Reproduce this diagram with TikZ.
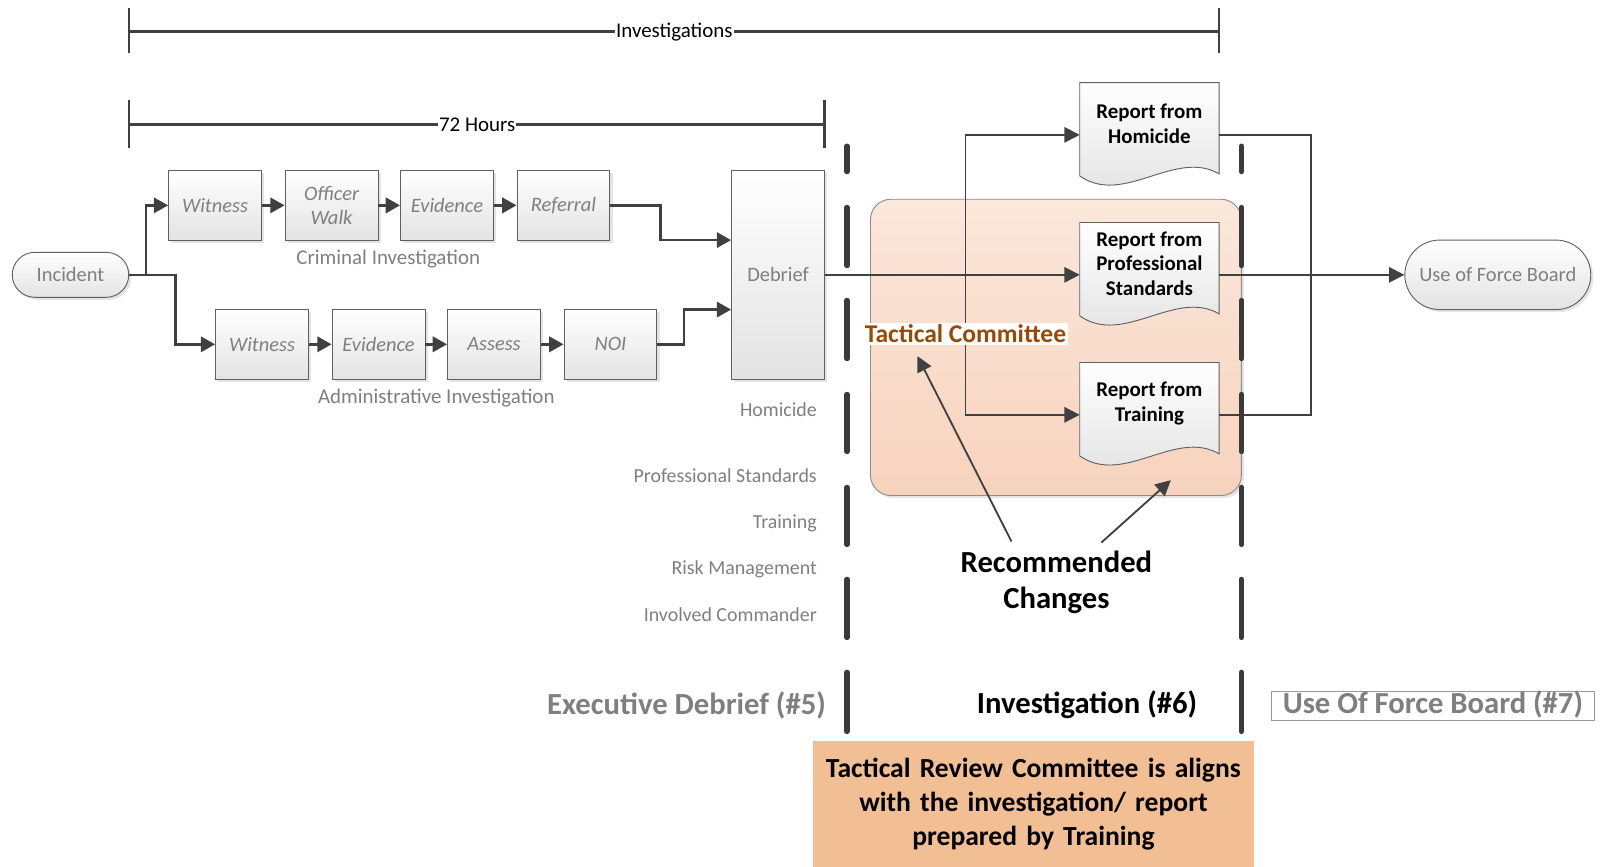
\documentclass[tikz,border=0pt]{standalone}
\usepackage{fontspec}
\setmainfont{Carlito}
\usetikzlibrary{arrows.meta,shapes.misc,shadows,calc}
\definecolor{flowc}{HTML}{404040}
\definecolor{txtgray}{HTML}{7F7F7F}
\definecolor{brd}{HTML}{606060}
\definecolor{tcbrown}{HTML}{984807}
\definecolor{peachtop}{HTML}{FBE7DB}
\definecolor{peachbot}{HTML}{F7D3BD}
\definecolor{orangebox}{HTML}{F2BE93}
\definecolor{dashc}{HTML}{3A3A3A}
\newcommand\fs[2]{\fontsize{#1}{#2}\selectfont}
\newcommand\docshape[1]{\path[docfill] (#1.north west) -- (#1.north east) -- ([yshift=13pt]#1.south east) .. controls ([xshift=-43pt,yshift=38pt]#1.south east) and ([xshift=43pt,yshift=-19pt]#1.south west) .. ([yshift=11pt]#1.south west) -- cycle;}
\tikzset{
  shad/.style={drop shadow={shadow xshift=2.5pt,shadow yshift=-2.5pt,fill=black!35,opacity=0.3}},
  stepbox/.style={rectangle, draw=brd, line width=0.9pt, top color=white, bottom color=black!11,
    minimum width=91pt, minimum height=68pt, inner sep=2pt, align=center, text=txtgray,
    font=\fs{20}{24}\itshape, shad},
  term/.style={rounded rectangle, draw=brd, line width=0.9pt, top color=white, bottom color=black!11,
    text=txtgray, font=\fs{20}{24}, inner sep=0pt, shad},
  docbox/.style={rectangle, minimum width=136pt, minimum height=102pt, inner sep=0pt},
  docfill/.style={draw=brd, line width=0.9pt, top color=white, bottom color=black!12},
  doctext/.style={align=center, font=\fs{20.5}{24}\bfseries, text=black},
  flow/.style={draw=flowc, line width=2.6pt, -{Triangle[length=14pt,width=15pt]}},
  thinflow/.style={draw=flowc, line width=1.8pt, -{Triangle[length=15pt,width=15pt]}},
  thinplain/.style={draw=flowc, line width=1.8pt},
  brk/.style={draw=flowc, line width=2.4pt},
  lane/.style={anchor=east, text=txtgray, font=\fs{19.5}{23}},
  sublbl/.style={text=txtgray, font=\fs{20.5}{24}},
  dashseg/.style={draw=dashc, line width=5pt, line cap=round},
  phase/.style={font=\fs{30}{36}\bfseries},
}
\begin{document}
\begin{tikzpicture}[x=1pt,y=-1pt]
\useasboundingbox (0,0) rectangle (1568,848);

% brackets
\coordinate (iL) at (126,31); \coordinate (iR) at (1193,31);
\draw[brk] (iL) -- (iR);
\draw[brk] ([yshift=23pt]iL) -- ([yshift=-21pt]iL);
\draw[brk] ([yshift=23pt]iR) -- ([yshift=-21pt]iR);
\node[fill=white, inner xsep=1pt, inner ysep=1pt, font=\fs{20.5}{24}] (invlbl) at (660,31) {Investigations};
\coordinate (hL) at (126,122); \coordinate (hR) at (807,122);
\draw[brk] (hL) -- (hR);
\draw[brk] ([yshift=24pt]hL) -- ([yshift=-23pt]hL);
\draw[brk] ([yshift=24pt]hR) -- ([yshift=-23pt]hR);
\node[fill=white, inner xsep=1pt, inner ysep=1pt, font=\fs{20.5}{24}] (hlbl) at (467,122) {72 Hours};

% tactical committee area
\node[rectangle, rounded corners=20pt, draw=black!45, line width=0.9pt, top color=peachtop, bottom color=peachbot,
  minimum width=363pt, minimum height=290pt, shad] (tac) at (1033.5,340) {};

% documents
\node[docbox] (rh) at (1125,132) {};
\node[docbox] (rp) at (1125,269) {};
\node[docbox] (rt) at (1125,406) {};
\docshape{rh}\docshape{rp}\docshape{rt}
\node[doctext] (rht) at ([yshift=11pt]rh.center) {Report from\\Homicide};
\node[doctext] (rpt) at ([yshift=11pt]rp.center) {Report from\\Professional\\Standards};
\node[doctext] (rtt) at ([yshift=11pt]rt.center) {Report from\\Training};

% left process
\node[term, minimum width=114pt, minimum height=44pt] (inc) at (69,269) {Incident};
\node[stepbox] (w1) at (210.5,201) {Witness};
\node[stepbox] (w2) at (324.5,201) {Officer\\Walk};
\node[stepbox] (w3) at (437.5,201) {Evidence};
\node[stepbox] (w4) at (551.5,201) {Referral};
\node[stepbox] (a1) at (256.5,337) {Witness};
\node[stepbox] (a2) at (370.5,337) {Evidence};
\node[stepbox] (a3) at (483.5,337) {Assess};
\node[stepbox] (a4) at (597.5,337) {NOI};
\node[stepbox, minimum height=204pt, font=\fs{20}{24}] (deb) at (761.5,269) {Debrief};
\node[sublbl] (crim) at (380,254) {Criminal Investigation};
\node[sublbl] (adm) at (427,390) {Administrative Investigation};
\node[term, minimum width=182pt, minimum height=68pt] (uof) at (1466,269) {Use of Force Board};

\coordinate (s1) at (143,269);
\coordinate (s2) at (172,269);
\draw[flow] (inc.east) -- (s1) |- (w1.west);
\draw[flow] (inc.east) -- (s2) |- (a1.west);
\draw[flow] (w1) -- (w2);
\draw[flow] (w2) -- (w3);
\draw[flow] (w3) -- (w4);
\draw[flow] (a1) -- (a2);
\draw[flow] (a2) -- (a3);
\draw[flow] (a3) -- (a4);
\draw[flow] (w4.east) -- ++(49,0) |- ([yshift=34pt]deb.west);
\draw[flow] (a4.east) -- ++(26,0) |- ([yshift=-34pt]deb.west);

% right connectors
\coordinate (br) at (945,269);
\coordinate (jn) at (1283,269);
\draw[thinflow] (deb.east) -- (rp.west);
\draw[thinflow] (br) |- (rh.west);
\draw[thinflow] (br) |- (rt.west);
\draw[thinplain] (rh.east) -| (jn);
\draw[thinplain] (rt.east) -| (jn);
\draw[thinflow] (rp.east) -- (uof.west);

\node[fill=white, text=tcbrown, font=\fs{25}{29}\bfseries, inner xsep=2pt, inner ysep=1.5pt] (tcl) at (945,327) {Tactical Committee};

% dashed separators
\foreach \xx in {829,1215}{
  \foreach \ya/\yb in {143/168,203/260,294/351,386/442,477/533,567/624,658/716}{
    \draw[dashseg] (\xx,\ya) -- (\xx,\yb);
  }
}

% lane labels
\node[lane] (l1) at (803,401) {Homicide};
\node[lane] (l2) at (803,466) {Professional Standards};
\node[lane] (l3) at (803,512) {Training};
\node[lane] (l4) at (803,557) {Risk Management};
\node[lane] (l5) at (803,602) {Involved Commander};

% recommended changes
\node[align=center, font=\fs{30}{36}\bfseries] (rc) at (1034,570) {Recommended\\Changes};
\coordinate (rcA) at (990,530);
\coordinate (rcB) at (1078,531);
\coordinate (tipB) at (1146,470);
\draw[thinflow] (rcA) -- ([xshift=-47pt,yshift=-11pt]tcl.south);
\draw[thinflow] (rcB) -- (tipB);

% phases
\node[phase, text=txtgray, anchor=east] (p5) at (812,690) {Executive Debrief (\#5)};
\node[phase, text=black] (p6) at (1064,690) {Investigation (\#6)};
\node[phase, text=txtgray, draw=black!40, line width=0.9pt, fill=white, minimum width=317pt,
  inner xsep=0pt, inner ysep=1pt, text height=20pt, text depth=6pt] (p7) at (1402.5,691) {Use Of Force Board (\#7)};

% bottom note
\node[fill=orangebox, minimum width=429pt, minimum height=124pt, anchor=north, align=center,
  text width=425pt, font=\fs{27}{33}\bfseries] (note) at (1011.5,725) {Tactical Review Committee is aligns\\with the investigation/ report\\prepared by Training};
\end{tikzpicture}
\end{document}
